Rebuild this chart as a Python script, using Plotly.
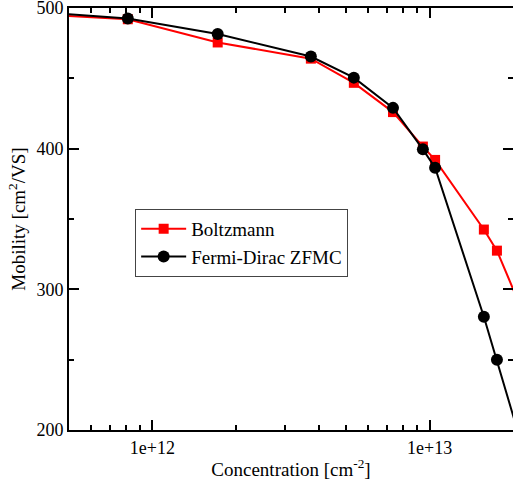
import numpy as np
import plotly.graph_objects as go

conc = [4.0e11, 8.15e11, 1.72e12, 3.73e12, 5.33e12, 7.38e12, 9.46e12, 1.047e13, 1.57e13, 1.75e13, 2.2e13]
boltzmann = [495.3, 492.0, 475.5, 464.0, 446.8, 426.0, 401.5, 392.0, 342.5, 327.5, 281.0]
fermi_dirac = [497.0, 492.5, 481.5, 465.5, 450.5, 429.0, 399.5, 386.5, 280.5, 250.0, 183.0]

x_major = [1e12, 1e13]
x_major_text = ["1e+12", "1e+13"]
x_minor = [m * 10 ** e for e in (11, 12, 13) for m in range(2, 10)]
y_major = [200, 300, 400, 500]
y_minor = [250, 350, 450]

serif = "Liberation Serif"
xr = [np.log10(5e11), np.log10(2e13)]
yr = [200, 500]

fig = go.Figure()
fig.add_trace(go.Scatter(x=conc, y=boltzmann, mode="lines+markers", name="Boltzmann",
                         line=dict(color="#ff0000", width=2),
                         marker=dict(symbol="square", size=10, color="#ff0000")))
fig.add_trace(go.Scatter(x=conc, y=fermi_dirac, mode="lines+markers", name="Fermi-Dirac ZFMC",
                         line=dict(color="#000000", width=2),
                         marker=dict(symbol="circle", size=12, color="#000000")))
# invisible trace to activate the minor-tick overlay axes
fig.add_trace(go.Scatter(x=[conc[1]], y=[boltzmann[1]], xaxis="x2", yaxis="y2",
                         mode="markers", marker=dict(opacity=0), showlegend=False, hoverinfo="skip"))

common = dict(ticks="inside", tickwidth=2, tickcolor="black", showgrid=False, zeroline=False,
              automargin=False, ticklabeloverflow="allow")

fig.update_layout(
    width=513, height=486,
    margin=dict(l=69, r=0, t=8, b=56, autoexpand=False),
    paper_bgcolor="white", plot_bgcolor="white",
    font=dict(family=serif, size=18, color="black"),
    showlegend=True,
    legend=dict(x=0.149, y=0.524, xanchor="left", yanchor="top",
                bgcolor="white", bordercolor="#444444", borderwidth=1,
                font=dict(family=serif, size=19), itemwidth=45, tracegroupgap=6),
    xaxis=dict(type="log", range=xr, tickvals=x_major, ticktext=x_major_text, ticklen=10,
               showline=True, linewidth=2, linecolor="black", mirror="ticks",
               title=dict(text="Concentration [cm<sup>-2</sup>]", font=dict(family=serif, size=19), standoff=6),
               tickfont=dict(family=serif, size=18), **common),
    yaxis=dict(range=yr, tickvals=y_major, ticklen=10,
               showline=True, linewidth=2, linecolor="black", mirror="ticks",
               title=dict(text="Mobility [cm<sup>2</sup>/VS]", font=dict(family=serif, size=19), standoff=6),
               tickfont=dict(family=serif, size=18), **common),
    xaxis2=dict(type="log", range=xr, tickvals=x_minor, showticklabels=False, ticklen=5,
                overlaying="x", anchor="y2", mirror="ticks", showline=False, **common),
    yaxis2=dict(range=yr, tickvals=y_minor, showticklabels=False, ticklen=5,
                overlaying="y", anchor="x2", mirror="ticks", showline=False, **common),
)

fig.write_html("out.html", config={"displayModeBar": False},
               post_script="document.body.style.margin='0';document.body.style.overflow='hidden';")
